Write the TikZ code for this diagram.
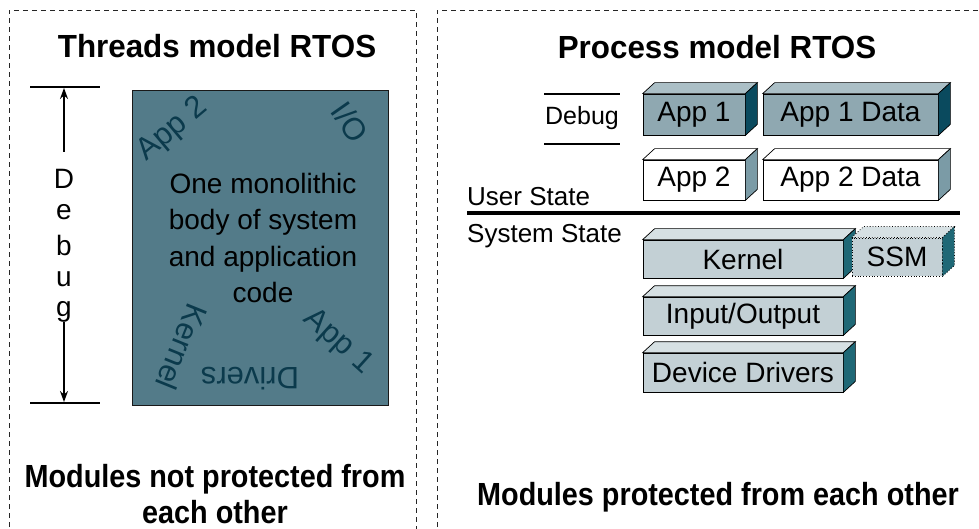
\documentclass[tikz,border=0pt]{standalone}
\usepackage{fontspec}
\setmainfont{Liberation Sans}
\usetikzlibrary{arrows.meta}

\definecolor{monofill}{HTML}{537B89}
\definecolor{monotext}{HTML}{0B3A4C}
\definecolor{appafront}{HTML}{8FA8B1}
\definecolor{appatop}{HTML}{ABBFC6}
\definecolor{appaside}{HTML}{0A4A5E}
\definecolor{appbside}{HTML}{7B9BA6}
\definecolor{sysfront}{HTML}{C3D0D5}
\definecolor{systop}{HTML}{D6E0E3}
\definecolor{sysside}{HTML}{1F6876}

% 3D block: name, centre x, centre y, width, height, front, top, side, label
\newcommand\drawblock[9]{%
  \node[blockface, fill=#6, minimum width=#4pt, minimum height=#5pt] (#1) at (#2,#3) {#9};
  \draw[blockline, fill=#7] (#1.north west) -- ([shift={(12,-11)}]#1.north west)
     -- ([shift={(12,-11)}]#1.north east) -- (#1.north east) -- cycle;
  \draw[blockline, fill=#8] (#1.north east) -- ([shift={(12,-11)}]#1.north east)
     -- ([shift={(12,-11)}]#1.south east) -- (#1.south east) -- cycle;
}

\begin{document}
\begin{tikzpicture}[x=1pt,y=-1pt,
  panel/.style={draw=black!85, dash pattern=on 5pt off 4pt, line width=0.8pt},
  heading/.style={inner sep=0, font=\fontsize{32}{36}\selectfont\bfseries, xscale=0.98},
  footnote/.style={inner sep=0, align=center, font=\fontsize{32}{36}\selectfont\bfseries, xscale=0.9},
  plain/.style={inner sep=0, font=\fontsize{26}{30}\selectfont},
  curved/.style={inner sep=0, text=monotext, font=\fontsize{31}{34}\selectfont},
  blockline/.style={draw=black, line width=0.7pt},
  blockface/.style={blockline, inner sep=0, font=\fontsize{28}{32}\selectfont},
  bar/.style={line width=1.6pt},
  tip/.style={line width=1.2pt, -{Stealth[length=11pt,width=8pt]}}
]
\useasboundingbox (0,0) rectangle (979,529);
\clip (0,0) rectangle (979,529);

% dashed panels
\draw[panel] (9,545) -- (9,10) -- (416,10) -- (416,545);
\draw[panel] (437,545) -- (437,10) -- (990,10);

% ---------------- threads model ----------------
\node[heading] (tleft) at (217,46) {Threads model RTOS};

\coordinate (dtopl) at (30,87);  \coordinate (dtopr) at (100,87);
\coordinate (dbotl) at (30,403); \coordinate (dbotr) at (100,403);
\coordinate (dtop) at (64,88);   \coordinate (dbot) at (64,402);
\draw[bar] (dtopl) -- (dtopr);
\draw[bar] (dbotl) -- (dbotr);
\begin{scope}[plain/.append style={font=\fontsize{28}{30}\selectfont}]
\node[plain] (dD) at (64,179) {D};
\node[plain] (de) at (64,212) {e};
\node[plain] (db) at (64,245) {b};
\node[plain] (du) at (64,279) {u};
\node[plain] (dg) at (64,312) {g};
\end{scope}
\draw[tip] (64,152) -- (dtop);
\draw[tip] (64,322) -- (dbot);

\node[draw=black!90, line width=0.8pt, fill=monofill, minimum width=256pt, minimum height=315pt, inner sep=0] (mono) at (260,247.5) {};
\node[inner sep=0, align=center, font=\fontsize{28}{36.5}\selectfont] (monolabel) at (263,238)
  {One monolithic\\body of system\\and application\\code};
\node[curved, rotate=40]   (capp2) at (173,130) {App 2};
\node[curved, rotate=-55]  (cio)   at (350,122) {I/O};
\node[curved, rotate=-112] (ckern) at (182,347) {Kernel};
\node[curved, rotate=180]  (cdrv)  at (250,379) {Drivers};
\node[curved, rotate=-42]  (capp1) at (338,342) {App 1};

\node[footnote] (fleft) at (215,494) {Modules not protected from\\each other};

% ---------------- process model ----------------
\node[heading] (tright) at (717,47) {Process model RTOS};

\coordinate (rtopl) at (544,94);  \coordinate (rtopr) at (620,94);
\coordinate (rbotl) at (544,144); \coordinate (rbotr) at (620,144);
\draw[line width=1.3pt] (rtopl) -- (rtopr);
\draw[line width=1.3pt] (rbotl) -- (rbotr);
\node[inner sep=0, font=\fontsize{25}{28}\selectfont] (rdebug) at (582,118) {Debug};

\drawblock{app1}{694}{114.5}{102}{41}{appafront}{appatop}{appaside}{App 1}
\drawblock{app1d}{850.5}{114.5}{175}{41}{appafront}{appatop}{appaside}{App 1 Data}
\drawblock{app2}{694}{180}{102}{40}{white}{white}{appbside}{App 2}
\drawblock{app2d}{850.5}{180}{175}{40}{white}{white}{appbside}{App 2 Data}

\node[plain, anchor=west] (ustate) at (467,197) {User State};
\coordinate (sepl) at (467,213); \coordinate (sepr) at (960,213);
\draw[line width=4pt] (sepl) -- (sepr);
\node[plain, anchor=west] (sstate) at (467,236) {System State};

\drawblock{kern}{743}{259}{200}{38}{sysfront}{systop}{sysside}{Kernel}
\begin{scope}[blockline/.style={draw=black, line width=0.8pt, dotted}]
\drawblock{ssm}{897}{257}{90}{38}{sysfront}{systop}{sysside}{SSM}
\end{scope}
\drawblock{io}{743}{316}{200}{38}{sysfront}{systop}{sysside}{Input/Output}
\drawblock{dev}{743}{372.5}{200}{39}{sysfront}{systop}{sysside}{Device Drivers}

\node[footnote] (fright) at (718,497) {Modules protected from each other};
\end{tikzpicture}
\end{document}
